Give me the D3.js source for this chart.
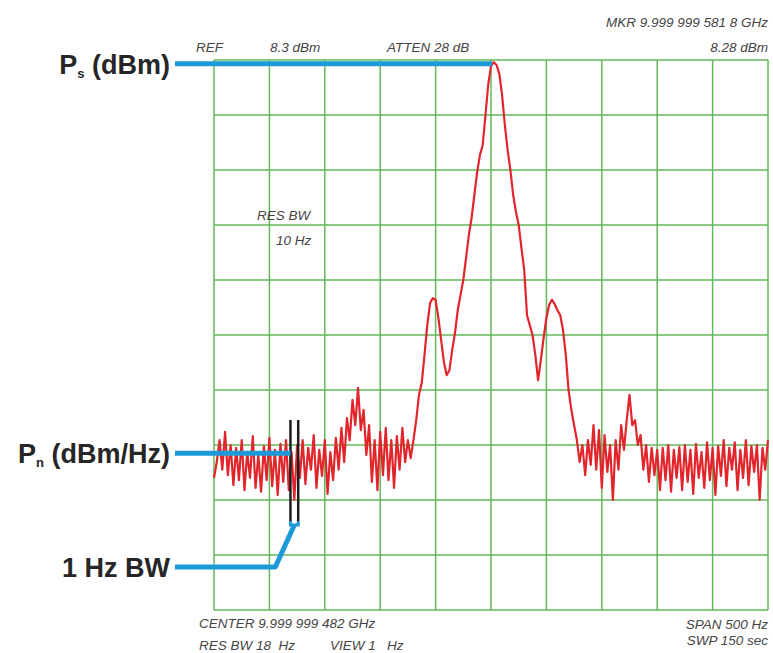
<!DOCTYPE html>
<html>
<head>
<meta charset="utf-8">
<script src="https://cdn.jsdelivr.net/npm/d3@7"></script>
<style>
  body { margin: 0; background: #fff; }
  svg text { font-family: "Liberation Sans", Arial, sans-serif; white-space: pre; }
</style>
</head>
<body>
<script>
// trace sampled every 2.5 Hz, from -250 Hz to +250 Hz around the center
const startHz = -250;
const stepHz = 2.5;

// level in dB below the reference level (8.3 dBm)
const noiseLeft = [
  -76.0, -73.1, -69.1, -74.5, -67.6, -75.5, -70.0, -77.3, -70.5, -76.4,
  -69.1, -78.2, -71.3, -76.0, -68.4, -77.8, -71.8, -78.5, -70.2, -76.4,
  -68.7, -77.5, -70.9, -79.1, -69.8, -76.7, -69.1, -78.2, -71.3, -80.0,
  -70.0, -76.0, -69.1, -77.1, -70.5, -74.5, -68.2, -77.8, -70.9, -75.6,
  -69.1, -78.9, -71.3, -76.4, -68.7, -74.5, -66.9, -73.1, -65.1, -69.1,
  -61.8, -66.4, -59.6, -67.3, -63.6, -71.8, -66.4, -76.7, -69.1, -78.2,
  -67.6, -75.5, -66.9, -76.4, -69.1, -77.8, -68.4, -74.5, -66.9, -73.1,
  -69.1, -72.4, -69.1
];

const mainLobe = [
  -65.5, -60.9, -58.7, -53.6, -48.2, -44.2, -43.3, -43.6, -46.9, -50.9,
  -54.9, -57.3, -56.4, -52.7, -49.6, -45.5, -42.7, -40.0, -36.0, -31.8,
  -28.7, -24.5, -20.4, -17.3, -15.5, -10.0, -4.5, -1.1, -0.4, -0.9,
  -2.5, -6.4, -11.8, -16.4, -20.0, -24.5, -27.6, -30.0, -34.2, -38.2,
  -46.4, -48.2, -50.0, -53.6, -58.2, -54.5, -50.5, -46.9, -44.5, -43.6,
  -44.4, -45.5, -46.4, -49.1, -53.6, -60.0, -63.6, -66.4
];

const noiseRight = [
  -69.1, -73.1, -70.0, -75.5, -69.1, -73.6, -66.4, -74.5, -67.3, -77.8,
  -68.2, -74.9, -70.0, -80.0, -69.1, -74.5, -66.4, -70.9, -65.5, -60.9,
  -66.4, -65.5, -70.0, -68.2, -74.5, -70.0, -76.7, -70.5, -75.5, -70.9,
  -78.2, -70.5, -76.4, -70.0, -78.5, -70.9, -76.0, -70.4, -78.2, -70.0,
  -76.7, -70.9, -78.9, -69.8, -76.0, -71.3, -77.8, -69.5, -76.4, -70.5,
  -79.1, -70.2, -75.6, -69.1, -77.5, -70.5, -74.5, -69.5, -78.2, -70.9,
  -76.0, -69.1, -77.3, -70.2, -74.9, -70.0, -80.0, -70.5, -74.5, -69.1
];

const psLevel = -0.7;
const psHz = 1;
const pnLevel = -71.5;
const bwMarkersHz = [-181, -174];

const topTexts = [
  { text: "MKR 9.999 999 581 8 GHz", x: 768, y: 27, anchor: "end" },
  { text: "REF", x: 196, y: 52, anchor: "start" },
  { text: "8.3 dBm", x: 270, y: 52, anchor: "start" },
  { text: "ATTEN 28 dB", x: 387, y: 52, anchor: "start" },
  { text: "8.28 dBm", x: 768, y: 52, anchor: "end" },
  { text: "RES BW", x: 257, y: 220, anchor: "start" },
  { text: "10 Hz", x: 276, y: 245, anchor: "start" },
  { text: "CENTER 9.999 999 482 GHz", x: 199, y: 628, anchor: "start" },
  { text: "RES BW 18  Hz", x: 199, y: 650, anchor: "start" },
  { text: "VIEW 1   Hz", x: 330, y: 650, anchor: "start" },
  { text: "SPAN 500 Hz", x: 768, y: 629, anchor: "end" },
  { text: "SWP 150 sec", x: 768, y: 645, anchor: "end" }
];

const trace = noiseLeft.concat(mainLobe, noiseRight)
  .map((v, i) => [startHz + i * stepHz, v]);

const width = 773, height = 653;
const plot = { left: 214, right: 768, top: 60, bottom: 610 };

const x = d3.scaleLinear().domain([-250, 250]).range([plot.left, plot.right]);
const y = d3.scaleLinear().domain([-100, 0]).range([plot.bottom, plot.top]);

const svg = d3.select("body")
  .append("svg")
  .attr("width", width)
  .attr("height", height);

const gridColor = "#62b85a";
const blue = "#1c9ad8";

// grid
svg.append("g")
  .selectAll("line")
  .data(x.ticks(10))
  .enter()
  .append("line")
  .attr("x1", d => x(d)).attr("x2", d => x(d))
  .attr("y1", plot.top).attr("y2", plot.bottom)
  .attr("stroke", gridColor)
  .attr("stroke-width", 1.5);

svg.append("g")
  .selectAll("line")
  .data(y.ticks(10))
  .enter()
  .append("line")
  .attr("y1", d => y(d)).attr("y2", d => y(d))
  .attr("x1", plot.left).attr("x2", plot.right)
  .attr("stroke", gridColor)
  .attr("stroke-width", 1.5);

// trace
let line = d3.line()
  .x(d => x(d[0]))
  .y(d => y(d[1]));

svg.append("path")
  .datum(trace)
  .attr("fill", "none")
  .attr("stroke", "#e2252b")
  .attr("stroke-width", 2.2)
  .attr("stroke-linejoin", "round")
  .attr("d", line);

// 1 Hz bandwidth markers
svg.selectAll(".bw")
  .data(bwMarkersHz)
  .enter()
  .append("line")
  .attr("class", "bw")
  .attr("x1", d => x(d)).attr("x2", d => x(d))
  .attr("y1", 420).attr("y2", 521)
  .attr("stroke", "#1e1e1e")
  .attr("stroke-width", 2.5);

// callout lines
const labelX = 175;
let bwMid = (x(bwMarkersHz[0]) + x(bwMarkersHz[1])) / 2;

svg.append("line")
  .attr("x1", labelX).attr("x2", x(psHz))
  .attr("y1", y(psLevel)).attr("y2", y(psLevel))
  .attr("stroke", blue).attr("stroke-width", 5);

svg.append("line")
  .attr("x1", labelX).attr("x2", x(bwMarkersHz[0]))
  .attr("y1", y(pnLevel)).attr("y2", y(pnLevel))
  .attr("stroke", blue).attr("stroke-width", 5);

svg.append("path")
  .attr("d", "M" + x(bwMarkersHz[0]) + ",521 L" + x(bwMarkersHz[0]) + ",525 L" +
    x(bwMarkersHz[1]) + ",525 L" + x(bwMarkersHz[1]) + ",521")
  .attr("fill", "none")
  .attr("stroke", blue).attr("stroke-width", 3);

svg.append("path")
  .attr("d", "M" + bwMid + ",525 L" + (bwMid - 19) + ",567 L" + labelX + ",567")
  .attr("fill", "none")
  .attr("stroke", blue).attr("stroke-width", 5)
  .attr("stroke-linejoin", "round");

// big labels
function bigLabel(main, sub, rest, yPos){
  let t = svg.append("text")
    .attr("x", 170)
    .attr("y", yPos)
    .attr("text-anchor", "end")
    .attr("font-size", 27)
    .attr("font-weight", "bold")
    .attr("fill", "#262626");
  t.append("tspan").text(main);
  if(sub){
    t.append("tspan").attr("font-size", 13).attr("dy", 4).text(sub);
    t.append("tspan").attr("dy", -4).text(rest);
  }
}

bigLabel("P", "s", " (dBm)", y(psLevel) + 10);
bigLabel("P", "n", " (dBm/Hz)", y(pnLevel) + 10);
bigLabel("1 Hz BW", null, null, 577);

// instrument annotations
svg.selectAll(".note")
  .data(topTexts)
  .enter()
  .append("text")
  .attr("class", "note")
  .attr("x", d => d.x)
  .attr("y", d => d.y)
  .attr("text-anchor", d => d.anchor)
  .attr("font-size", 13.5)
  .attr("font-style", "italic")
  .attr("fill", "#454545")
  .text(d => d.text);
</script>
</body>
</html>
